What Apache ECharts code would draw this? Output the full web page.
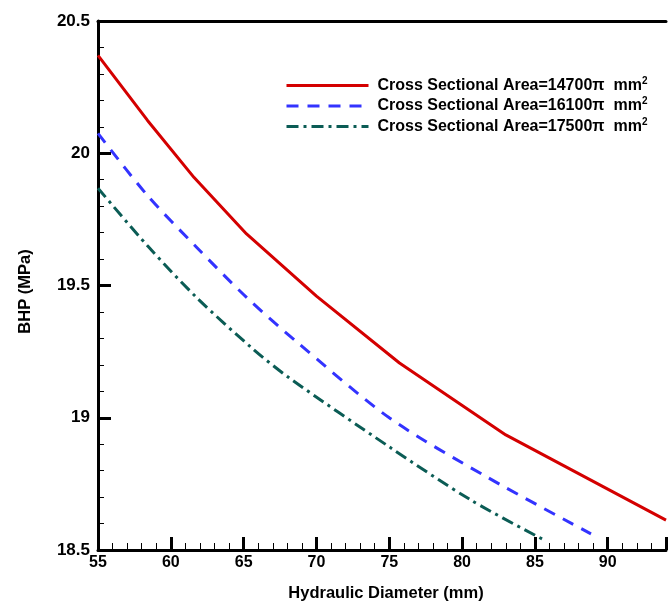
<!DOCTYPE html>
<html>
<head>
<meta charset="utf-8">
<script src="https://cdn.jsdelivr.net/npm/echarts@6/dist/echarts.min.js"></script>
<style>html,body{margin:0;padding:0;background:#fff}#c{width:669px;height:607px}</style>
</head>
<body>
<div id="c"></div>
<script>
var seriesNames = ['Cross Sectional Area=14700π  mm', 'Cross Sectional Area=16100π  mm', 'Cross Sectional Area=17500π  mm'];
var redX = [55, 58.4, 61.6, 65.2, 70, 75.7, 83, 94];
var redY = [20.37, 20.124, 19.908, 19.695, 19.46, 19.207, 18.935, 18.613];
var blueX = [55, 58.4, 61.8, 65.2, 68.6, 75, 81.7, 88.85];
var blueY = [20.075, 19.84, 19.643, 19.455, 19.289, 19.0, 18.776, 18.561];
var greenX = [55, 58.4, 61.8, 65.6, 68.1, 75, 80.6, 85.66];
var greenY = [19.868, 19.65, 19.453, 19.262, 19.152, 18.89, 18.689, 18.537];
var xTicks = {min: 55, max: 94, interval: 5};
var yTicks = {min: 18.5, max: 20.5, interval: 0.5};

function pairs(xs, ys) { return xs.map(function (x, i) { return [x, ys[i]]; }); }

var font = 'Liberation Sans, Arial, sans-serif';
var chart = echarts.init(document.getElementById('c'), null, {renderer: 'canvas'});
chart.setOption({
  animation: false,
  backgroundColor: '#fff',
  grid: {left: 98, right: -2, top: 21, bottom: 57, containLabel: false},
  legend: {
    left: 280, top: 71, orient: 'vertical', itemWidth: 82, itemHeight: 16, itemGap: 3,
    itemStyle: {opacity: 0},
    lineStyle: {width: 3},
    formatter: function (n) { return n + '{sup|2}'; },
    textStyle: {color: '#000', fontFamily: font, fontWeight: 'bold', fontSize: 16, padding: [0, 0, 0, 4],
      rich: {sup: {fontSize: 10, fontWeight: 'bold', fontFamily: font, color: '#000', verticalAlign: 'top', padding: [0, 0, 9, 0]}}},
    data: seriesNames
  },
  xAxis: [{
    type: 'value', min: xTicks.min, max: xTicks.max, interval: xTicks.interval,
    name: 'Hydraulic Diameter (mm)', nameLocation: 'middle', nameGap: 35,
    nameTextStyle: {color: '#000', fontFamily: font, fontWeight: 'bold', fontSize: 16.5, padding: [0, 0, 0, 8]},
    axisLine: {show: true, onZero: false, lineStyle: {color: '#000', width: 3}},
    axisTick: {show: true, inside: true, length: 13, lineStyle: {color: '#000', width: 3}},
    minorTick: {show: true, splitNumber: 5, length: 7, lineStyle: {color: '#000', width: 1}},
    axisLabel: {color: '#000', fontFamily: font, fontWeight: 'bold', fontSize: 16, margin: 5,
      formatter: function (v) { return v <= 90 ? String(v) : ''; }},
    splitLine: {show: false}
  }, {
    type: 'value', position: 'top', min: xTicks.min, max: xTicks.max,
    axisLine: {show: true, onZero: false, lineStyle: {color: '#000', width: 3}},
    axisTick: {show: false}, axisLabel: {show: false}, splitLine: {show: false}
  }],
  yAxis: [{
    type: 'value', min: yTicks.min, max: yTicks.max, interval: yTicks.interval,
    name: 'BHP (MPa)', nameLocation: 'middle', nameGap: 64, nameRotate: 90,
    nameTextStyle: {color: '#000', fontFamily: font, fontWeight: 'bold', fontSize: 16.5, padding: [0, 12, 0, 0]},
    axisLine: {show: true, onZero: false, lineStyle: {color: '#000', width: 3}},
    axisTick: {show: true, inside: true, length: 13, lineStyle: {color: '#000', width: 3}},
    minorTick: {show: true, splitNumber: 5, length: 6, lineStyle: {color: '#000', width: 1}},
    axisLabel: {color: '#000', fontFamily: font, fontWeight: 'bold', fontSize: 17, margin: 8},
    splitLine: {show: false}
  }],
  series: [{
    name: seriesNames[0], type: 'line', data: pairs(redX, redY), symbol: 'none', smooth: false,
    lineStyle: {color: '#d40000', width: 3, type: 'solid'}, itemStyle: {color: '#d40000'}
  }, {
    name: seriesNames[1], type: 'line', data: pairs(blueX, blueY), symbol: 'none', smooth: 0.3,
    lineStyle: {color: '#3333ff', width: 3, type: [12, 9]}, itemStyle: {color: '#3333ff'}
  }, {
    name: seriesNames[2], type: 'line', data: pairs(greenX, greenY), symbol: 'none', smooth: 0.3,
    lineStyle: {color: '#0b5c55', width: 3, type: [12, 5, 3, 5]}, itemStyle: {color: '#0b5c55'}
  }]
});
</script>
</body>
</html>
